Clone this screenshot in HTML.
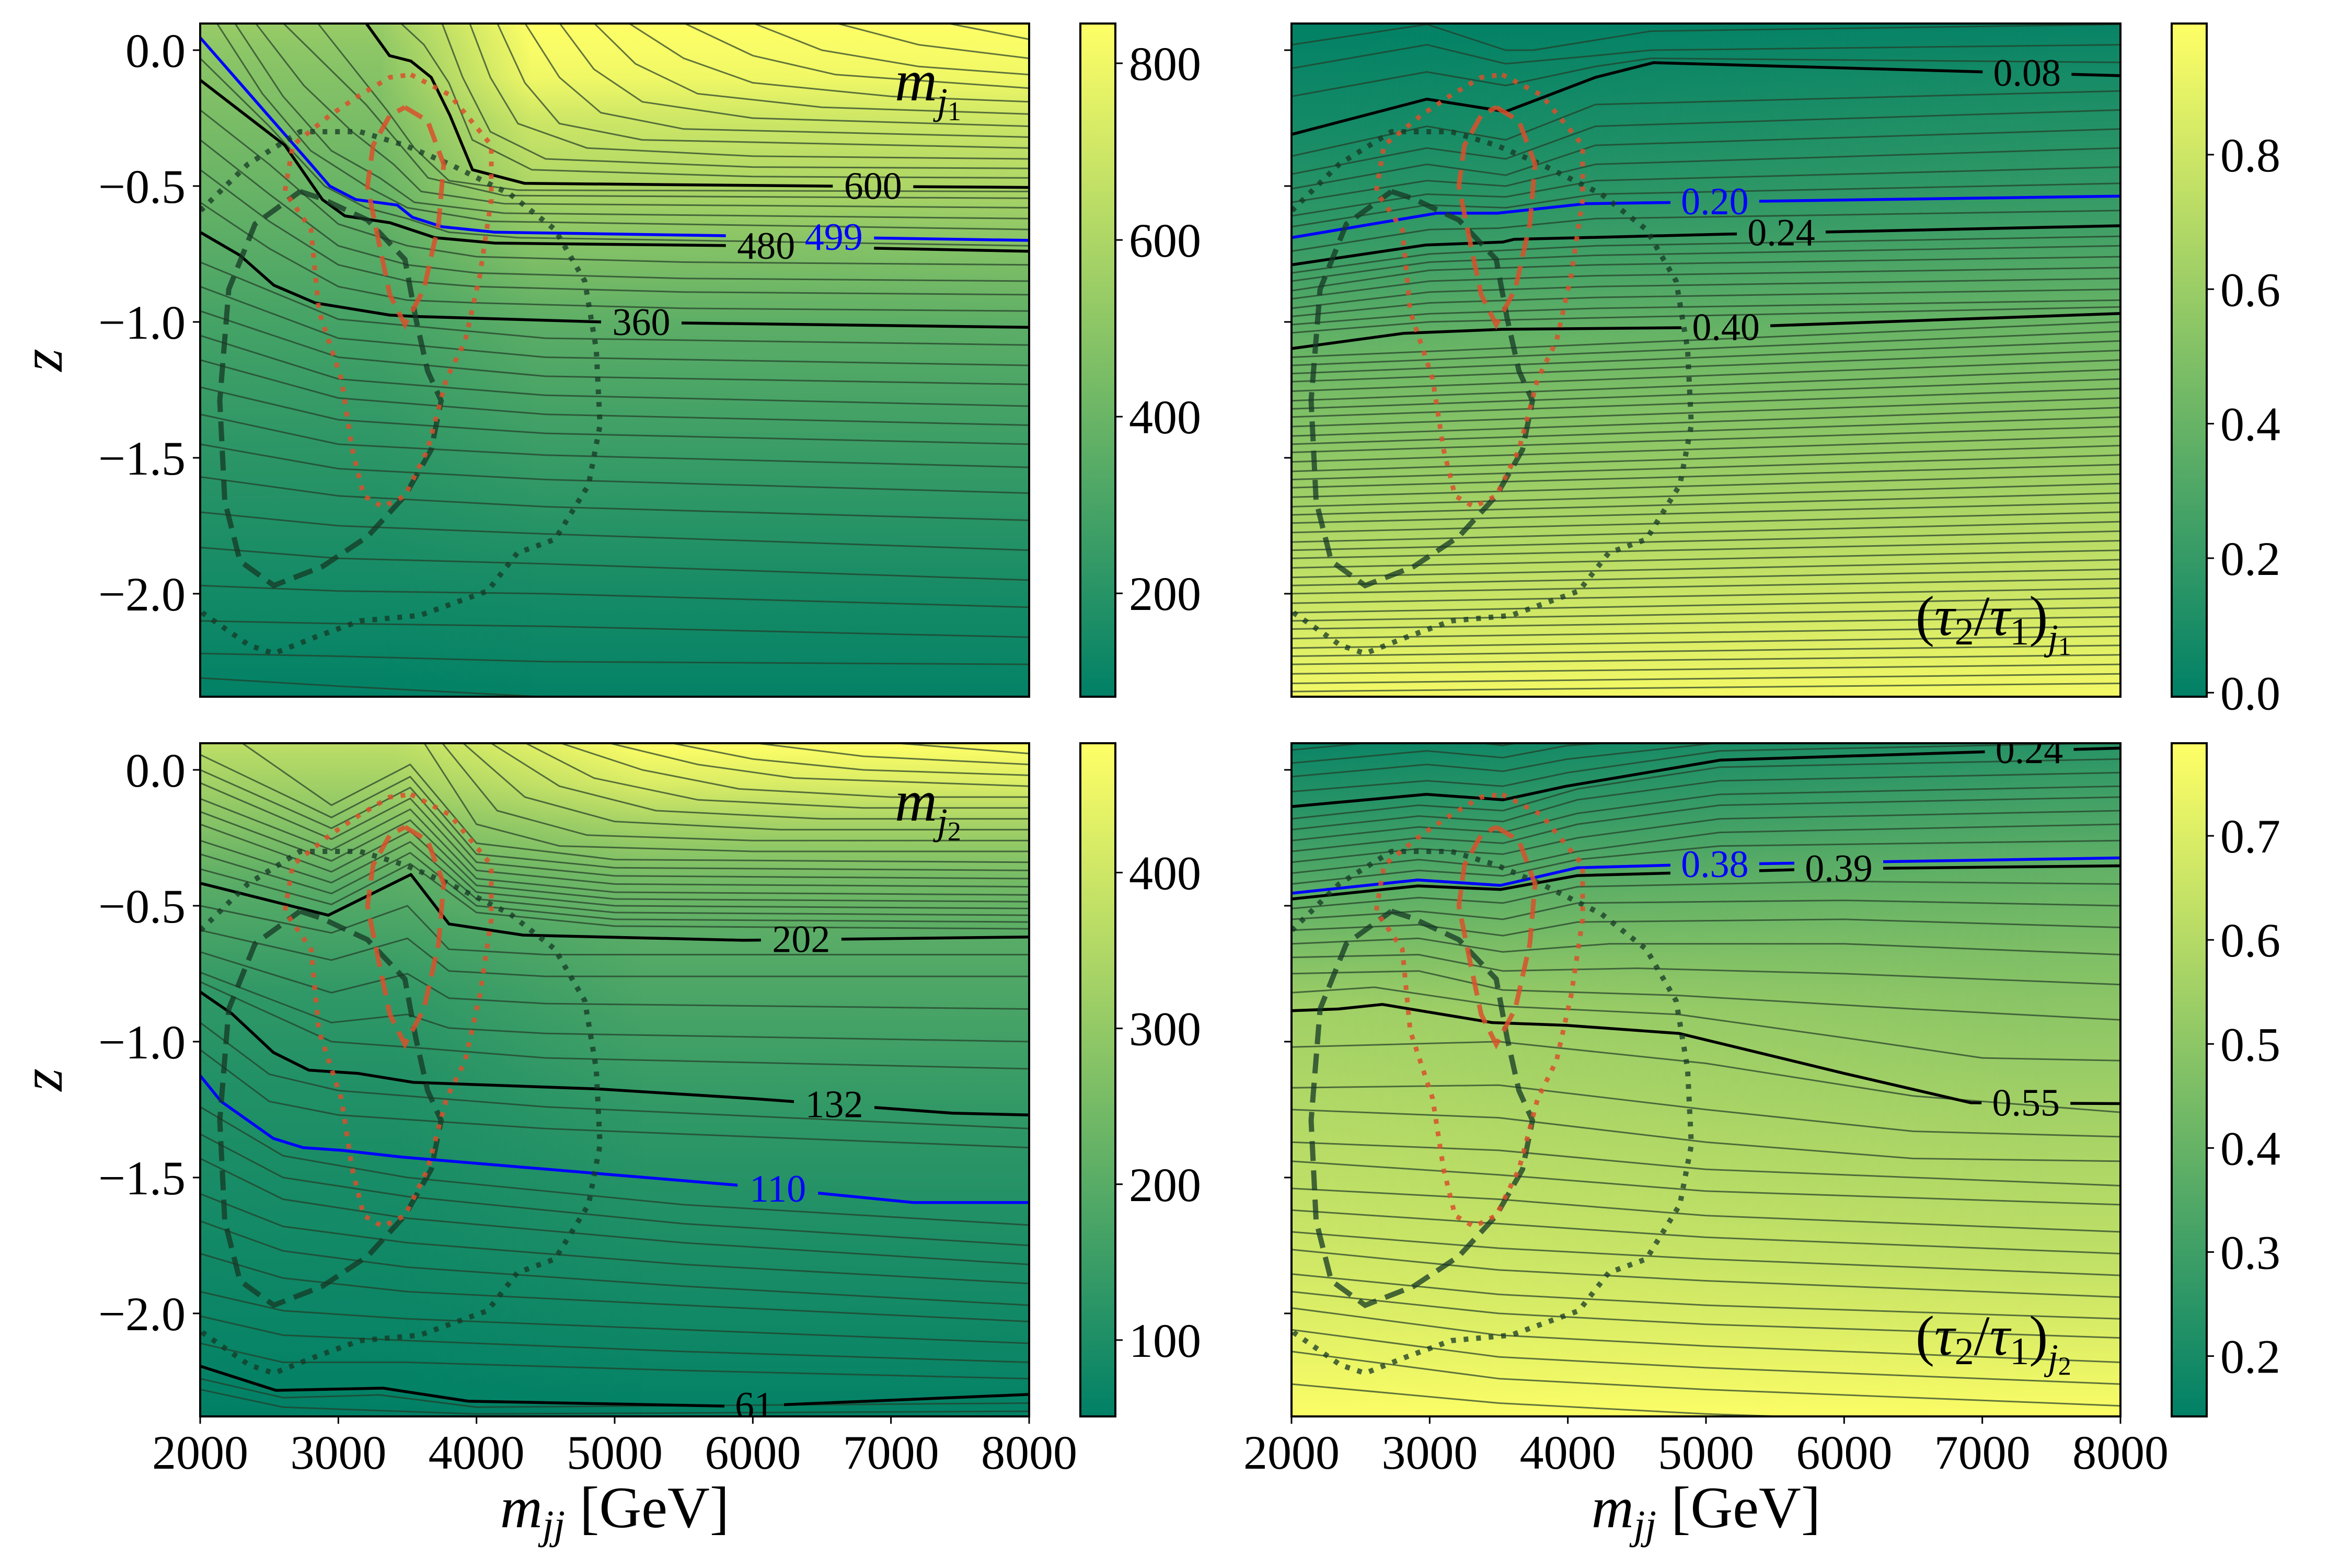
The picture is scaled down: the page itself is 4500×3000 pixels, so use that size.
<!DOCTYPE html>
<html><head><meta charset="utf-8"><title>Contour panels</title>
<style>
html,body{margin:0;padding:0;background:#fff;}
svg{display:block;}
text{font-family:"Liberation Serif","DejaVu Serif",serif;fill:#000;}
</style></head>
<body>
<svg id="fig" xmlns="http://www.w3.org/2000/svg" width="4500" height="3000" viewBox="0 0 4500 3000"></svg>
<script>
// ---------------- DATA (x in TeV-thousands of GeV, z) ----------------
const xTicks=[2000,3000,4000,5000,6000,7000,8000];
const zTicks=[0.0,-0.5,-1.0,-1.5,-2.0];
const zTickLabels=["0.0","\u22120.5","\u22121.0","\u22121.5","\u22122.0"];
const tlCbTicks=[200,400,600,800];
const trCbTicks=[0.0,0.2,0.4,0.6,0.8];
const blCbTicks=[100,200,300,400];
const brCbTicks=[0.2,0.3,0.4,0.5,0.6,0.7];
const tlRange=[83,845];
const trRange=[-0.006,0.995];
const blRange=[51,483];
const brRange=[0.142,0.789];

const tlStopsL=[[0.1,540],[0.0,500],[-0.1,480],[-0.67,360],[-1.0,290],[-1.5,210],[-2.0,140],[-2.38,90]];
const tlStopsR=[[0.1,845],[-0.1,800],[-0.25,700],[-0.5,600],[-0.72,480],[-1.0,360],[-1.5,250],[-2.0,150],[-2.38,95]];
const trStopsL=[[0.1,0.0],[-0.31,0.08],[-0.69,0.2],[-0.79,0.24],[-1.1,0.4],[-1.6,0.6],[-2.1,0.82],[-2.38,0.95]];
const trStopsR=[[0.1,0.02],[-0.094,0.08],[-0.54,0.2],[-0.65,0.24],[-0.97,0.4],[-1.5,0.6],[-2.0,0.8],[-2.38,0.95]];
const blStopsL=[[0.1,370],[-0.1,310],[-0.42,202],[-0.82,132],[-1.12,110],[-2.19,61],[-2.38,52]];
const blStopsR=[[0.1,483],[-0.05,420],[-0.2,330],[-0.4,250],[-0.61,202],[-1.27,132],[-1.59,110],[-2.3,61],[-2.38,55]];
const brStopsL=[[0.1,0.17],[-0.13,0.24],[-0.47,0.38],[-0.88,0.55],[-1.5,0.62],[-2.0,0.7],[-2.38,0.78]];
const brStopsR=[[0.1,0.24],[-0.33,0.38],[-0.7,0.47],[-1.23,0.55],[-1.8,0.63],[-2.38,0.78]];

const grayDash=[[2.723,-0.52],[2.874,-0.545],[3.211,-0.625],[3.482,-0.77],[3.562,-0.99],[3.646,-1.18],[3.744,-1.29],[3.672,-1.47],[3.482,-1.64],[3.211,-1.79],[2.885,-1.90],[2.533,-1.97],[2.288,-1.88],[2.178,-1.66],[2.142,-1.29],[2.207,-0.88],[2.397,-0.64],[2.723,-0.52]];
const grayDot=[[1.95,-0.68],[2.004,-0.59],[2.344,-0.42],[2.723,-0.30],[3.157,-0.30],[3.482,-0.35],[3.808,-0.42],[4.243,-0.53],[4.568,-0.66],[4.784,-0.85],[4.867,-1.10],[4.894,-1.38],[4.811,-1.60],[4.568,-1.80],[4.296,-1.85],[4.08,-1.99],[3.589,-2.08],[3.157,-2.10],[2.832,-2.16],[2.533,-2.22],[2.355,-2.19],[2.015,-2.07],[1.95,-2.02]];
const redDash=[[3.482,-0.21],[3.646,-0.26],[3.763,-0.42],[3.725,-0.64],[3.619,-0.88],[3.482,-1.01],[3.373,-0.90],[3.29,-0.70],[3.211,-0.50],[3.252,-0.35],[3.373,-0.24],[3.482,-0.21]];
const redDot=[[3.525,-0.09],[3.808,-0.165],[4.107,-0.35],[4.107,-0.55],[4.024,-0.83],[3.918,-1.07],[3.782,-1.21],[3.646,-1.47],[3.482,-1.64],[3.32,-1.68],[3.184,-1.64],[3.101,-1.47],[3.022,-1.21],[2.859,-0.96],[2.802,-0.66],[2.613,-0.52],[2.67,-0.35],[2.938,-0.24],[3.157,-0.165],[3.373,-0.10],[3.525,-0.09]];

const tl600=[[3.2,0.1],[3.37,-0.02],[3.525,-0.04],[3.672,-0.10],[3.808,-0.24],[3.971,-0.44],[4.349,-0.49],[6.52,-0.50],[8,-0.505]];
const tl499=[[2,0.046],[2.613,-0.31],[2.802,-0.42],[2.938,-0.50],[3.127,-0.55],[3.426,-0.57],[3.536,-0.615],[3.752,-0.65],[4.134,-0.67],[8,-0.70]];
const tl480=[[2,-0.11],[2.613,-0.35],[2.885,-0.55],[3.048,-0.61],[3.373,-0.635],[3.699,-0.69],[4.134,-0.71],[5.98,-0.72],[8,-0.74]];
const tl360=[[2,-0.67],[2.288,-0.755],[2.533,-0.865],[2.832,-0.93],[3.373,-0.975],[3.56,-0.98],[4.894,-1.0],[8,-1.02]];
const tr008=[[2,-0.31],[2.98,-0.18],[3.55,-0.226],[4.2,-0.1],[4.62,-0.046],[8,-0.094]];
const tr020=[[2,-0.69],[3.05,-0.6],[3.49,-0.6],[4.13,-0.565],[8,-0.537]];
const tr024=[[2,-0.79],[2.97,-0.717],[3.53,-0.706],[3.61,-0.696],[5.14,-0.677],[8,-0.646]];
const tr040=[[2,-1.098],[2.81,-1.042],[3.53,-1.027],[5.14,-1.02],[8,-0.969]];
const bl202=[[2,-0.417],[2.927,-0.535],[3.525,-0.385],[3.801,-0.567],[4.338,-0.608],[5.93,-0.627],[8,-0.615]];
const bl132=[[2,-0.817],[2.231,-0.898],[2.53,-1.04],[2.787,-1.105],[3.146,-1.117],[3.543,-1.15],[4.875,-1.174],[6.01,-1.21],[7.444,-1.263],[8,-1.27]];
const bl110=[[2,-1.125],[2.151,-1.22],[2.53,-1.356],[2.745,-1.39],[3.025,-1.40],[3.464,-1.425],[4.898,-1.486],[5.93,-1.53],[7.164,-1.592],[8,-1.592]];
const bl061=[[2,-2.194],[2.548,-2.283],[3.324,-2.275],[3.941,-2.323],[5.93,-2.342],[8,-2.298]];
const br024=[[2,-0.135],[2.976,-0.09],[3.532,-0.11],[3.99,-0.06],[5.106,0.036],[7.054,0.067],[8,0.08]];
const br038=[[2,-0.454],[2.915,-0.405],[3.513,-0.425],[4.07,-0.36],[4.788,-0.35],[8,-0.324]];
const br039=[[2,-0.475],[2.915,-0.427],[3.513,-0.44],[4.07,-0.389],[5.9,-0.364],[8,-0.353]];
const br055=[[2,-0.886],[2.337,-0.88],[2.658,-0.863],[3.453,-0.93],[3.99,-0.94],[4.807,-0.97],[6.002,-1.117],[6.918,-1.225],[8,-1.228]];

const tlThin=[
[[3.45,0.1],[3.62,0.02],[3.8,-0.12],[3.97,-0.33],[4.4,-0.44],[6,-0.465],[8,-0.47]],
[[3.75,0.1],[3.9,-0.1],[4.1,-0.3],[4.5,-0.4],[6,-0.43],[8,-0.435]],
[[3.95,0.1],[4.1,-0.1],[4.3,-0.27],[4.8,-0.36],[6,-0.39],[8,-0.4]],
[[4.15,0.1],[4.35,-0.12],[4.6,-0.27],[5.2,-0.33],[8,-0.36]],
[[4.35,0.1],[4.6,-0.1],[4.9,-0.23],[5.5,-0.29],[8,-0.32]],
[[4.6,0.1],[4.85,-0.07],[5.2,-0.19],[6,-0.25],[8,-0.28]],
[[4.85,0.1],[5.15,-0.05],[5.6,-0.16],[6.5,-0.21],[8,-0.235]],
[[5.1,0.1],[5.5,-0.03],[6,-0.12],[7,-0.17],[8,-0.19]],
[[5.5,0.1],[6,-0.02],[6.6,-0.09],[8,-0.14]],
[[6.0,0.1],[6.5,0.0],[7.2,-0.06],[8,-0.09]],
[[6.6,0.1],[7.2,0.02],[8,-0.03]],
[[7.4,0.1],[8,0.04]],
[[2.85,0.1],[3.1,-0.06],[3.35,-0.22],[3.55,-0.36],[3.8,-0.48],[4.3,-0.515],[8,-0.52]],
[[2.6,0.1],[2.9,-0.05],[3.2,-0.2],[3.45,-0.35],[3.65,-0.47],[4.2,-0.535],[8,-0.545]],
[[2.4,0.1],[2.75,-0.13],[3.1,-0.3],[3.4,-0.42],[3.6,-0.52],[4.2,-0.565],[8,-0.58]],
[[2.25,0.1],[2.6,-0.17],[2.95,-0.37],[3.3,-0.47],[3.55,-0.56],[4.2,-0.6],[8,-0.62]],
[[2.12,0.1],[2.45,-0.16],[2.8,-0.37],[3.2,-0.5],[3.5,-0.58],[4.1,-0.63],[8,-0.66]],
[[2,-0.03],[2.5,-0.28],[2.9,-0.5],[3.2,-0.58],[3.5,-0.62],[3.8,-0.67],[4.3,-0.69],[8,-0.72]],
[[2,-0.22],[2.5,-0.42],[3,-0.64],[3.5,-0.72],[4,-0.76],[5.5,-0.78],[8,-0.79]],
[[2,-0.33],[2.5,-0.53],[3,-0.72],[3.5,-0.79],[4,-0.82],[5.5,-0.84],[8,-0.85]],
[[2,-0.44],[2.5,-0.63],[3,-0.79],[3.5,-0.85],[4,-0.87],[5.5,-0.89],[8,-0.9]],
[[2,-0.56],[2.5,-0.73],[3,-0.87],[3.5,-0.92],[4,-0.93],[5.5,-0.95],[8,-0.96]],
[[2,-0.78],[3,-0.99],[4.5,-1.06],[8,-1.085]],
[[2,-0.87],[3,-1.06],[4.5,-1.13],[8,-1.16]],
[[2,-0.96],[3,-1.13],[4.5,-1.2],[8,-1.23]],
[[2,-1.05],[3,-1.21],[4.5,-1.27],[8,-1.31]],
[[2,-1.14],[3,-1.28],[4.5,-1.34],[8,-1.38]],
[[2,-1.24],[3,-1.36],[4.5,-1.41],[8,-1.45]],
[[2,-1.34],[3,-1.45],[4.5,-1.49],[8,-1.535]],
[[2,-1.45],[3,-1.54],[4.5,-1.58],[8,-1.63]],
[[2,-1.57],[3,-1.64],[4.5,-1.68],[8,-1.73]],
[[2,-1.70],[3,-1.75],[4.5,-1.78],[8,-1.84]],
[[2,-1.83],[3,-1.87],[4.5,-1.89],[8,-1.95]],
[[2,-1.97],[3,-1.99],[4.5,-2.0],[8,-2.05]],
[[2,-2.1],[3,-2.11],[4.5,-2.12],[8,-2.16]],
[[2,-2.22],[3,-2.23],[4.5,-2.25],[8,-2.26]],
[[2,-2.31],[3,-2.34],[4.5,-2.38],[8,-2.42]]
];
const trThin=[
[[2,0.02],[2.98,0.095],[3.55,0.0],[3.75,0.0],[4.6,0.07],[8,0.095]],
[[2,-0.067],[2.98,0.02],[3.55,-0.05],[4.2,-0.02],[4.6,0.0],[8,0.02]],
[[2,-0.17],[2.98,-0.08],[3.55,-0.13],[4.2,-0.06],[4.6,-0.03],[8,-0.045]],
[[2,-0.39],[2.98,-0.28],[3.55,-0.33],[4.2,-0.2],[8,-0.15]],
[[2,-0.456],[2.98,-0.36],[3.55,-0.4],[4.2,-0.28],[8,-0.22]],
[[2,-0.51],[2.98,-0.42],[3.55,-0.46],[4.2,-0.35],[8,-0.29]],
[[2,-0.56],[2.98,-0.48],[3.55,-0.5],[4.2,-0.42],[8,-0.36]],
[[2,-0.61],[2.98,-0.53],[3.55,-0.54],[4.2,-0.48],[8,-0.43]],
[[2,-0.65],[2.98,-0.57],[3.55,-0.58],[4.2,-0.53],[8,-0.49]],
[[2,-0.74],[3,-0.66],[3.5,-0.655],[4.2,-0.62],[8,-0.59]],
[[2,-0.82],[3,-0.75],[4.2,-0.72],[8,-0.685]],
[[2,-0.85],[3,-0.78],[4.2,-0.755],[8,-0.72]],
[[2,-0.885],[3,-0.81],[4.2,-0.79],[8,-0.76]],
[[2,-0.915],[3,-0.85],[4.2,-0.83],[8,-0.8]],
[[2,-0.95],[3,-0.89],[4.2,-0.87],[8,-0.84]],
[[2,-0.98],[3,-0.93],[4.2,-0.91],[8,-0.88]],
[[2,-1.01],[3,-0.97],[4.2,-0.95],[8,-0.92]],
[[2,-1.04],[3,-1.0],[4.2,-0.985],[8,-0.945]],
[[2,-1.13],[8,-1.0]],[[2,-1.16],[8,-1.035]],[[2,-1.19],[8,-1.07]],[[2,-1.22],[8,-1.105]],
[[2,-1.255],[8,-1.14]],[[2,-1.29],[8,-1.175]],[[2,-1.32],[8,-1.21]],[[2,-1.35],[8,-1.245]],
[[2,-1.385],[8,-1.28]],[[2,-1.42],[8,-1.315]],[[2,-1.45],[8,-1.35]],[[2,-1.48],[8,-1.385]],
[[2,-1.515],[8,-1.42]],[[2,-1.55],[8,-1.455]],[[2,-1.58],[8,-1.49]],[[2,-1.61],[8,-1.525]],
[[2,-1.645],[8,-1.56]],[[2,-1.68],[8,-1.595]],[[2,-1.71],[8,-1.63]],[[2,-1.74],[8,-1.665]],
[[2,-1.775],[8,-1.7]],[[2,-1.81],[8,-1.735]],[[2,-1.84],[8,-1.77]],[[2,-1.87],[8,-1.805]],
[[2,-1.905],[8,-1.84]],[[2,-1.94],[8,-1.875]],[[2,-1.97],[8,-1.91]],[[2,-2.0],[8,-1.945]],
[[2,-2.035],[8,-1.98]],[[2,-2.07],[8,-2.015]],[[2,-2.1],[8,-2.05]],[[2,-2.13],[8,-2.085]],
[[2,-2.165],[8,-2.12]],[[2,-2.2],[8,-2.155]],[[2,-2.23],[8,-2.19]],[[2,-2.26],[8,-2.225]],
[[2,-2.295],[8,-2.26]],[[2,-2.33],[8,-2.295]],[[2,-2.36],[8,-2.33]]
];
const blThin=[
[[2.3,0.1],[2.95,-0.13],[3.52,0.02],[4.0,-0.27],[5,-0.33],[8,-0.34]],
[[2,0.056],[2.95,-0.175],[3.52,-0.025],[4.0,-0.31],[5,-0.36],[8,-0.37]],
[[2,0.0],[2.95,-0.215],[3.52,-0.065],[4.0,-0.34],[5,-0.39],[8,-0.40]],
[[2,-0.048],[2.95,-0.255],[3.52,-0.105],[4.0,-0.37],[5,-0.42],[8,-0.43]],
[[2,-0.106],[2.95,-0.295],[3.52,-0.145],[4.0,-0.40],[5,-0.45],[8,-0.46]],
[[2,-0.154],[2.95,-0.335],[3.52,-0.185],[4.0,-0.425],[5,-0.475],[8,-0.485]],
[[2,-0.2],[2.95,-0.375],[3.52,-0.225],[4.0,-0.45],[5,-0.5],[8,-0.51]],
[[2,-0.26],[2.95,-0.415],[3.52,-0.265],[4.0,-0.475],[5,-0.525],[8,-0.535]],
[[2,-0.31],[2.95,-0.455],[3.52,-0.305],[4.0,-0.5],[5,-0.55],[8,-0.56]],
[[2,-0.365],[2.95,-0.495],[3.52,-0.345],[4.0,-0.525],[5,-0.575],[8,-0.585]],
[[3.62,0.1],[4.0,-0.2],[4.6,-0.28],[6,-0.3],[8,-0.30]],
[[3.75,0.1],[4.15,-0.15],[4.8,-0.24],[6,-0.26],[8,-0.26]],
[[3.9,0.1],[4.35,-0.1],[5.0,-0.19],[6.2,-0.22],[8,-0.22]],
[[4.1,0.1],[4.6,-0.06],[5.3,-0.15],[6.5,-0.18],[8,-0.18]],
[[4.35,0.1],[4.85,-0.03],[5.6,-0.11],[6.8,-0.14],[8,-0.14]],
[[4.6,0.1],[5.2,0.0],[5.9,-0.07],[7,-0.1],[8,-0.1]],
[[4.95,0.1],[5.6,0.02],[6.3,-0.03],[8,-0.06]],
[[5.4,0.1],[6,0.04],[6.8,0.0],[8,-0.02]],
[[6.0,0.1],[6.8,0.05],[8,0.02]],
[[7.0,0.1],[8,0.06]],
[[2,-0.5],[2.95,-0.6],[3.5,-0.5],[3.8,-0.66],[4.5,-0.68],[8,-0.68]],
[[2,-0.59],[2.95,-0.7],[3.5,-0.62],[3.8,-0.74],[4.5,-0.76],[8,-0.76]],
[[2,-0.67],[2.95,-0.82],[3.5,-0.75],[3.8,-0.84],[4.5,-0.86],[8,-0.88]],
[[2,-0.745],[2.95,-0.93],[3.5,-0.9],[3.8,-0.95],[4.5,-0.97],[8,-1.0]],
[[2,-0.78],[2.95,-1.0],[3.5,-1.02],[4.5,-1.06],[8,-1.1]],
[[2,-0.93],[2.5,-1.12],[3,-1.18],[4.5,-1.24],[8,-1.32]],
[[2,-1.03],[2.5,-1.22],[3,-1.27],[4.5,-1.32],[8,-1.39]],
[[2,-1.24],[2.6,-1.42],[3.5,-1.5],[5.5,-1.6],[8,-1.675]],
[[2,-1.34],[2.6,-1.5],[3.5,-1.57],[5.5,-1.67],[8,-1.75]],
[[2,-1.43],[2.6,-1.58],[3.5,-1.65],[5.5,-1.74],[8,-1.82]],
[[2,-1.56],[2.6,-1.68],[3.5,-1.74],[5.5,-1.82],[8,-1.89]],
[[2,-1.66],[2.6,-1.77],[3.5,-1.83],[5.5,-1.9],[8,-1.97]],
[[2,-1.78],[2.6,-1.87],[3.5,-1.92],[5.5,-1.97],[8,-2.03]],
[[2,-1.92],[2.6,-1.99],[3.5,-2.02],[5.5,-2.06],[8,-2.11]],
[[2,-2.01],[2.6,-2.08],[3.5,-2.1],[5.5,-2.14],[8,-2.18]],
[[2,-2.11],[2.6,-2.18],[3.5,-2.18],[5.5,-2.21],[8,-2.24]],
[[2,-2.24],[2.6,-2.31],[3.3,-2.30],[4,-2.345],[8,-2.33]],
[[2,-2.28],[2.6,-2.345],[4,-2.37],[8,-2.36]]
];
const brThin=[
[[2,0.073],[2.98,0.12],[3.53,0.09],[4,0.13]],
[[2,0.025],[2.98,0.07],[3.53,0.045],[4,0.09],[5,0.12]],
[[2,-0.025],[2.98,0.02],[3.53,-0.005],[4,0.04],[5.1,0.1],[8,0.12]],
[[2,-0.08],[2.98,-0.04],[3.53,-0.06],[4,-0.01],[5.1,0.07],[8,0.1]],
[[2,-0.18],[2.92,-0.13],[3.53,-0.15],[4.07,-0.07],[5.1,0.01],[8,0.04]],
[[2,-0.22],[2.92,-0.17],[3.53,-0.19],[4.07,-0.11],[5.1,-0.04],[8,-0.01]],
[[2,-0.26],[2.92,-0.21],[3.53,-0.23],[4.07,-0.16],[5.1,-0.09],[8,-0.06]],
[[2,-0.30],[2.92,-0.25],[3.53,-0.27],[4.07,-0.2],[5.1,-0.13],[8,-0.10]],
[[2,-0.34],[2.92,-0.29],[3.53,-0.31],[4.07,-0.25],[5.1,-0.18],[8,-0.15]],
[[2,-0.38],[2.92,-0.33],[3.53,-0.36],[4.07,-0.3],[5.1,-0.23],[8,-0.2]],
[[2,-0.42],[2.92,-0.37],[3.53,-0.39],[4.07,-0.33],[5.1,-0.28],[8,-0.26]],
[[2,-0.51],[2.92,-0.47],[3.53,-0.49],[4.07,-0.43],[6,-0.41],[8,-0.42]],
[[2,-0.55],[2.92,-0.52],[3.53,-0.55],[4.07,-0.49],[6,-0.48],[8,-0.5]],
[[2,-0.59],[2.92,-0.57],[3.53,-0.61],[4.07,-0.56],[6,-0.55],[8,-0.58]],
[[2,-0.64],[2.92,-0.62],[3.53,-0.67],[4.3,-0.64],[6,-0.64],[8,-0.68]],
[[2,-0.69],[2.92,-0.68],[3.53,-0.74],[4.5,-0.73],[6,-0.75],[8,-0.79]],
[[2,-0.75],[2.92,-0.74],[3.53,-0.81],[4.8,-0.83],[6.5,-0.88],[8,-0.92]],
[[2,-0.82],[2.6,-0.8],[3.53,-0.87],[4.8,-0.9],[6.2,-1.0],[7,-1.06],[8,-1.07]],
[[2,-1.02],[3.5,-1.0],[5,-1.08],[6.5,-1.2],[8,-1.26]],
[[2,-1.17],[3.5,-1.16],[5,-1.25],[6.5,-1.33],[8,-1.35]],
[[2,-1.25],[3.5,-1.28],[5,-1.37],[6.5,-1.43],[8,-1.44]],
[[2,-1.37],[3.5,-1.4],[5,-1.47],[8,-1.53]],
[[2,-1.44],[3.5,-1.49],[5,-1.55],[8,-1.6]],
[[2,-1.54],[3.5,-1.58],[5,-1.64],[8,-1.7]],
[[2,-1.62],[3.5,-1.67],[5,-1.72],[8,-1.78]],
[[2,-1.7],[3.5,-1.76],[5,-1.8],[8,-1.86]],
[[2,-1.765],[3.5,-1.84],[5,-1.88],[8,-1.94]],
[[2,-1.855],[3.5,-1.93],[5,-1.97],[8,-2.02]],
[[2,-1.92],[3.5,-2.0],[5,-2.04],[8,-2.09]],
[[2,-1.98],[3.5,-2.08],[5,-2.12],[8,-2.18]],
[[2,-2.06],[3.5,-2.16],[5,-2.2],[8,-2.26]],
[[2,-2.14],[3.5,-2.24],[5,-2.28],[8,-2.34]],
[[2,-2.26],[3.5,-2.33],[5,-2.37],[8,-2.42]]
];

// ---------------- RENDERING ----------------
const NS='http://www.w3.org/2000/svg';
const svg=document.getElementById('fig');
function mk(tag,attrs,parent){const e=document.createElementNS(NS,tag);for(const k in attrs)e.setAttribute(k,attrs[k]);(parent||svg).appendChild(e);return e;}
const AX_W=1586, AX_H=1288, Z_TOP=0.098, Z_BOT=-2.379;
function summer(t){t=Math.max(0,Math.min(1,t));return 'rgb('+Math.round(255*t)+','+Math.round(128+127*t)+',102)';}

const panels=[
 {id:'tl',left:383,top:45,range:tlRange,cb:tlCbTicks,cbFmt:v=>String(v),sL:tlStopsL,sR:tlStopsR,blend:[3.3,4.4],thin:tlThin,
  keys:[{d:tl600,c:'#000',lab:'600',lx:6.87},{d:tl499,c:'#0000ff',lab:'499',lx:6.586},{d:tl480,c:'#000',lab:'480',lx:6.096},{d:tl360,c:'#000',lab:'360',lx:5.193}],xlab:false,ylab:true,name:'mj1'},
 {id:'tr',left:2471,top:45,range:trRange,cb:trCbTicks,cbFmt:v=>v.toFixed(1),sL:trStopsL,sR:trStopsR,blend:[2.2,7.5],thin:trThin,
  keys:[{d:tr008,c:'#000',lab:'0.08',lx:7.324},{d:tr020,c:'#0000ff',lab:'0.20',lx:5.064},{d:tr024,c:'#000',lab:'0.24',lx:5.545},{d:tr040,c:'#000',lab:'0.40',lx:5.144}],xlab:false,ylab:false,name:'tau-j1'},
 {id:'bl',left:383,top:1422,range:blRange,cb:blCbTicks,cbFmt:v=>String(v),sL:blStopsL,sR:blStopsR,blend:[3.4,5.2],thin:blThin,
  keys:[{d:bl202,c:'#000',lab:'202',lx:6.35},{d:bl132,c:'#000',lab:'132',lx:6.589},{d:bl110,c:'#0000ff',lab:'110',lx:6.181},{d:bl061,c:'#000',lab:'61',lx:6.01}],xlab:true,ylab:true,name:'mj2'},
 {id:'br',left:2471,top:1422,range:brRange,cb:brCbTicks,cbFmt:v=>v.toFixed(1),sL:brStopsL,sR:brStopsR,blend:[2.2,7.5],thin:brThin,
  keys:[{d:br024,c:'#000',lab:'0.24',lx:7.34},{d:br038,c:'#0000ff',lab:'0.38',lx:5.064},{d:br039,c:'#000',lab:'0.39',lx:5.961},{d:br055,c:'#000',lab:'0.55',lx:7.316}],xlab:true,ylab:false,name:'tau-j2'}
];

const defs=mk('defs',{});
function interpZ(pts,x){for(let i=0;i<pts.length-1;i++){const a=pts[i],b=pts[i+1];if(x>=a[0]&&x<=b[0]){return a[1]+(b[1]-a[1])*(x-a[0])/(b[0]-a[0]);}}return pts[pts.length-1][1];}

panels.forEach(p=>{
  const X=x=>p.left+(x-2)/6*AX_W;
  const Y=z=>p.top+(Z_TOP-z)/(Z_TOP-Z_BOT)*AX_H;
  const path=pts=>pts.map((q,i)=>(i?'L':'M')+X(q[0]).toFixed(1)+' '+Y(q[1]).toFixed(1)).join(' ');
  const vt=v=>(v-p.range[0])/(p.range[1]-p.range[0]);
  ['L','R'].forEach(side=>{
    const g=mk('linearGradient',{id:'g'+side+p.id,gradientUnits:'userSpaceOnUse',x1:0,y1:p.top,x2:0,y2:p.top+AX_H},defs);
    (side==='L'?p.sL:p.sR).forEach(s=>{mk('stop',{offset:Math.max(0,Math.min(1,(Y(s[0])-p.top)/AX_H)),'stop-color':summer(vt(s[1]))},g);});
  });
  const mg=mk('linearGradient',{id:'mg'+p.id,gradientUnits:'userSpaceOnUse',x1:X(p.blend[0]),y1:0,x2:X(p.blend[1]),y2:0},defs);
  mk('stop',{offset:0,'stop-color':'#fff'},mg);mk('stop',{offset:1,'stop-color':'#000'},mg);
  const mask=mk('mask',{id:'m'+p.id,maskUnits:'userSpaceOnUse',x:p.left,y:p.top,width:AX_W,height:AX_H},defs);
  mk('rect',{x:p.left,y:p.top,width:AX_W,height:AX_H,fill:'url(#mg'+p.id+')'},mask);
  const clip=mk('clipPath',{id:'c'+p.id},defs);
  mk('rect',{x:p.left,y:p.top,width:AX_W,height:AX_H},clip);
  const km=mk('mask',{id:'km'+p.id,maskUnits:'userSpaceOnUse',x:p.left-10,y:p.top-10,width:AX_W+20,height:AX_H+20},defs);
  mk('rect',{x:p.left-10,y:p.top-10,width:AX_W+20,height:AX_H+20,fill:'#fff'},km);
  p.keys.forEach(k=>{const w=k.lab.length*(k.lab.includes('.')?34:40)+34;const lz=interpZ(k.d,k.lx);
    mk('rect',{x:X(k.lx)-w/2,y:Y(lz)-30,width:w,height:60,fill:'#000'},km);});

  const grp=mk('g',{'clip-path':'url(#c'+p.id+')'});
  
  
  const bgR=mk('rect',{x:p.left,y:p.top,width:AX_W,height:AX_H,fill:'url(#gR'+p.id+')'},grp);
  
  
  const bgL=mk('rect',{x:p.left,y:p.top,width:AX_W,height:AX_H,fill:'url(#gL'+p.id+')',mask:'url(#m'+p.id+')'},grp);
  
  
  const tg=mk('g',{fill:'none',stroke:'#243c28','stroke-opacity':'0.7','stroke-width':3,'stroke-linejoin':'round'},grp);
  
  
  p.thin.forEach(t=>{const e=mk('path',{d:path(t)},tg);
    
    });
  const kg=mk('g',{fill:'none','stroke-width':5.5,'stroke-linejoin':'round',mask:'url(#km'+p.id+')'},grp);
  p.keys.forEach(k=>{const e=mk('path',{d:path(k.d),stroke:k.c},kg);
    
    });
  p.keys.forEach(k=>{const lz=interpZ(k.d,k.lx);
    const t=mk('text',{x:X(k.lx),y:Y(lz),'text-anchor':'middle','dominant-baseline':'central','font-size':74,style:'fill:'+k.c},grp);
    t.textContent=k.lab;
    
    });
  const s1=mk('path',{d:path(grayDash),fill:'none',stroke:'#163826','stroke-opacity':0.75,'stroke-width':10,'stroke-dasharray':'38 18'},grp);
  
  
  const s2=mk('path',{d:path(grayDot),fill:'none',stroke:'#163826','stroke-opacity':0.75,'stroke-width':10,'stroke-dasharray':'9 15'},grp);
  
  
  const s3=mk('path',{d:path(redDash),fill:'none',stroke:'#d9502c','stroke-opacity':0.85,'stroke-width':9,'stroke-dasharray':'38 18'},grp);
  
  
  const s4=mk('path',{d:path(redDot),fill:'none',stroke:'#d9502c','stroke-opacity':0.85,'stroke-width':9,'stroke-dasharray':'9 15'},grp);
  
  
  const fr=mk('rect',{x:p.left,y:p.top,width:AX_W,height:AX_H,fill:'none',stroke:'#000','stroke-width':4});
  
  
  zTicks.forEach((z,i)=>{
    const tk=mk('line',{x1:p.left-14,x2:p.left,y1:Y(z),y2:Y(z),stroke:'#000','stroke-width':3});
    
    
    if(p.ylab){const t=mk('text',{x:p.left-28,y:Y(z)+32,'text-anchor':'end','font-size':92});
      t.textContent=zTickLabels[i];
      
      }
  });
  if(p.xlab){
    xTicks.forEach(v=>{const xx=X(v/1000);
      const tk=mk('line',{x1:xx,x2:xx,y1:p.top+AX_H,y2:p.top+AX_H+14,stroke:'#000','stroke-width':3});
      
      
      const t=mk('text',{x:xx,y:2810,'text-anchor':'middle','font-size':92});
      t.textContent=String(v);
      
      });
    const xl=mk('text',{x:p.left+AX_W/2,y:2922,'text-anchor':'middle','font-size':112});
    
    
    const a=mk('tspan',{'font-style':'italic'},xl);a.textContent='m';
    const b=mk('tspan',{'font-style':'italic','font-size':78,dy:22},xl);b.textContent='jj';
    const c=mk('tspan',{dy:-22},xl);c.textContent=' [GeV]';
  }
  if(p.ylab){
    const cy=p.top+AX_H/2;
    const yl=mk('text',{x:0,y:0,'text-anchor':'middle','font-size':112,'font-style':'italic',transform:'translate(118,'+cy+') rotate(-90)'});
    yl.textContent='z';
    
    
  }
  const cbx=p.left+1684, cbw=67;
  const cg=mk('linearGradient',{id:'cb'+p.id,x1:0,y1:1,x2:0,y2:0},defs);
  mk('stop',{offset:0,'stop-color':summer(0)},cg);mk('stop',{offset:1,'stop-color':summer(1)},cg);
  const cb=mk('rect',{x:cbx,y:p.top,width:cbw,height:AX_H,fill:'url(#cb'+p.id+')',stroke:'#000','stroke-width':4});
  
  
  p.cb.forEach(v=>{const yy=p.top+AX_H*(1-vt(v));
    const tk=mk('line',{x1:cbx+cbw,x2:cbx+cbw+14,y1:yy,y2:yy,stroke:'#000','stroke-width':3});
    
    
    const t=mk('text',{x:cbx+cbw+26,y:yy+32,'font-size':92});
    t.textContent=p.cbFmt(v);
    
    });
});

function mtitle(x,y,sub,name){const t=mk('text',{x:x,y:y,'font-size':112,'font-style':'italic'});
  
  
  const a=mk('tspan',{},t);a.textContent='m';
  const b=mk('tspan',{'font-size':72,dy:26},t);b.textContent='j';
  const c=mk('tspan',{'font-size':52,dy:12,'font-style':'normal'},t);c.textContent=sub;}
mtitle(1712,192,'1','panel-title-mj1');
mtitle(1712,1570,'2','panel-title-mj2');
function ttitle(x,y,sub,name){const t=mk('text',{x:x,y:y,'font-size':108});
  
  
  const p1=mk('tspan',{},t);p1.textContent='(';
  const p2=mk('tspan',{'font-style':'italic'},t);p2.textContent='\u03C4';
  const p3=mk('tspan',{'font-size':74,dy:18},t);p3.textContent='2';
  const p4=mk('tspan',{dy:-18},t);p4.textContent='/';
  const p5=mk('tspan',{'font-style':'italic'},t);p5.textContent='\u03C4';
  const p6=mk('tspan',{'font-size':74,dy:18},t);p6.textContent='1';
  const p7=mk('tspan',{dy:-18},t);p7.textContent=')';
  const p8=mk('tspan',{'font-size':70,'font-style':'italic',dy:28},t);p8.textContent='j';
  const p9=mk('tspan',{'font-size':50,dy:10},t);p9.textContent=sub;}
ttitle(3665,1215,'1','panel-title-tau-j1');
ttitle(3665,2592,'2','panel-title-tau-j2');
</script>
</body></html>
